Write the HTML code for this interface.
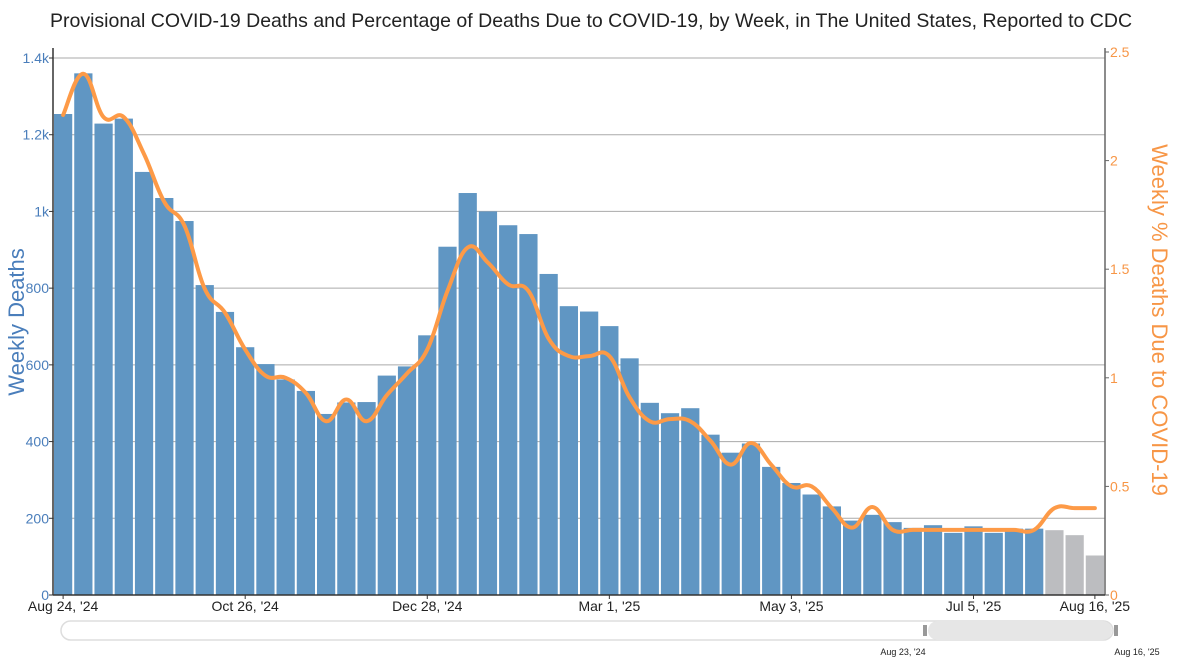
<!DOCTYPE html>
<html><head><meta charset="utf-8"><style>
body{margin:0;background:#fff;}
svg{display:block;font-family:"Liberation Sans",sans-serif;}
</style></head><body>
<svg id="c" width="1183" height="663" xmlns="http://www.w3.org/2000/svg">
<text x="591" y="27" text-anchor="middle" font-size="19.5" fill="#222">Provisional COVID-19 Deaths and Percentage of Deaths Due to COVID-19, by Week, in The United States, Reported to CDC</text>
<g id="grid"></g><g id="bars"></g><g id="line"></g><g id="axes"></g>
<text transform="translate(24,322) rotate(-90)" text-anchor="middle" font-size="22" fill="#4a7ebb">Weekly Deaths</text>
<text transform="translate(1152,320) rotate(90)" text-anchor="middle" font-size="22" fill="#f79646">Weekly % Deaths Due to COVID-19</text>
<g>
<rect x="61" y="621" width="1052" height="19" rx="9.5" fill="#fff" stroke="#ddd" stroke-width="1.5"/>
<rect x="928" y="621" width="184" height="19" rx="9.5" fill="#e6e6e6"/>
<rect x="923" y="625" width="4" height="11" fill="#999"/>
<rect x="1114" y="625" width="4" height="11" fill="#999"/>
<text x="903" y="655" text-anchor="middle" font-size="9" fill="#222">Aug 23, '24</text>
<text x="1137" y="655" text-anchor="middle" font-size="9" fill="#222">Aug 16, '25</text>
</g>
</svg>
<script>
const deaths=[1254,1360,1229,1242,1103,1035,975,808,738,646,602,562,532,472,502,503,572,596,677,908,1048,1000,964,941,837,753,739,701,617,501,474,487,418,371,395,334,292,262,231,194,209,190,175,182,162,179,162,173,173,169,156,103];
const pct=[2.21,2.40,2.20,2.20,2.03,1.81,1.70,1.41,1.30,1.13,1.01,1.00,0.93,0.80,0.90,0.80,0.92,1.02,1.13,1.40,1.60,1.53,1.43,1.40,1.18,1.10,1.10,1.10,0.91,0.80,0.81,0.80,0.71,0.60,0.70,0.60,0.50,0.50,0.40,0.31,0.405,0.30,0.30,0.30,0.30,0.30,0.30,0.30,0.30,0.40,0.40,0.40];
const provisionalFrom=49;
const leftTicks=[0,200,400,600,800,1000,1200,1400];
const leftTickLabels=["0","200","400","600","800","1k","1.2k","1.4k"];
const rightTicks=[0,0.5,1,1.5,2,2.5];
const rightTickLabels=["0","0.5","1","1.5","2","2.5"];
const xTickIdx=[0,9,18,27,36,45,51];
const xTickLabels=["Aug 24, '24","Oct 26, '24","Dec 28, '24","Mar 1, '25","May 3, '25","Jul 5, '25","Aug 16, '25"];
const NS="http://www.w3.org/2000/svg";
const X0=53,X1=1105,Y0=595,Ytop=58,YtopR=52;
const band=(X1-X0)/deaths.length;
const yL=v=>Y0-v/1400*(Y0-Ytop);
const yR=v=>Y0-v/2.5*(Y0-YtopR);
const xC=i=>X0+band*(i+0.5);
function mk(t,a,p){const e=document.createElementNS(NS,t);for(const k in a)e.setAttribute(k,a[k]);p.appendChild(e);return e;}
const grid=document.getElementById('grid'),bars=document.getElementById('bars'),line=document.getElementById('line'),axes=document.getElementById('axes');
leftTicks.forEach((v,i)=>{
 if(v>0){const g=mk('line',{x1:X0,x2:X1,y1:yL(v),y2:yL(v),stroke:'#aaa','stroke-width':1},grid);
 
 }
 const t=mk('text',{x:X0-4,y:yL(v)+5,'text-anchor':'end','font-size':14,fill:'#4a7ebb'},axes);t.textContent=leftTickLabels[i];
 
 
 mk('line',{x1:X0-4,x2:X0,y1:yL(v),y2:yL(v),stroke:'#333'},axes);
});
rightTicks.forEach((v,i)=>{
 const t=mk('text',{x:X1+5,y:yR(v)+5,'font-size':14,fill:'#f79646'},axes);t.textContent=rightTickLabels[i];
 
 
 mk('line',{x1:X1,x2:X1+4,y1:yR(v),y2:yR(v),stroke:'#666'},axes);
});
deaths.forEach((v,i)=>{
 const r=mk('rect',{x:X0+band*i+1,y:yL(v),width:band-2,height:Y0-yL(v),fill:i>=provisionalFrom?'#bcbdc0':'#6096c3'},bars);
 
 
});
// cardinal spline
const pts=pct.map((v,i)=>[xC(i),yR(v)]);
let d='M'+pts[0][0]+','+pts[0][1];
for(let i=0;i<pts.length-1;i++){
 const p0=pts[Math.max(0,i-1)],p1=pts[i],p2=pts[i+1],p3=pts[Math.min(pts.length-1,i+2)],k=0.2;
 d+=' C'+(p1[0]+(p2[0]-p0[0])*k)+','+(p1[1]+(p2[1]-p0[1])*k)+' '+(p2[0]-(p3[0]-p1[0])*k)+','+(p2[1]-(p3[1]-p1[1])*k)+' '+p2[0]+','+p2[1];
}
const ln=mk('path',{d:d,fill:'none',stroke:'#fd9a47','stroke-width':4,'stroke-linecap':'round'},line);


mk('line',{x1:X0,x2:X0,y1:48,y2:Y0,stroke:'#333','stroke-width':1.5},axes);
mk('line',{x1:X1,x2:X1,y1:48,y2:Y0,stroke:'#666','stroke-width':1.5},axes);
mk('line',{x1:X0,x2:X1,y1:Y0,y2:Y0,stroke:'#333','stroke-width':1.5},axes);
xTickIdx.forEach((idx,i)=>{
 mk('line',{x1:xC(idx),x2:xC(idx),y1:Y0,y2:Y0+4,stroke:'#333'},axes);
 const t=mk('text',{x:xC(idx),y:Y0+16,'text-anchor':'middle','font-size':14,fill:'#222'},axes);t.textContent=xTickLabels[i];
 
 
});
</script>
</body></html>
